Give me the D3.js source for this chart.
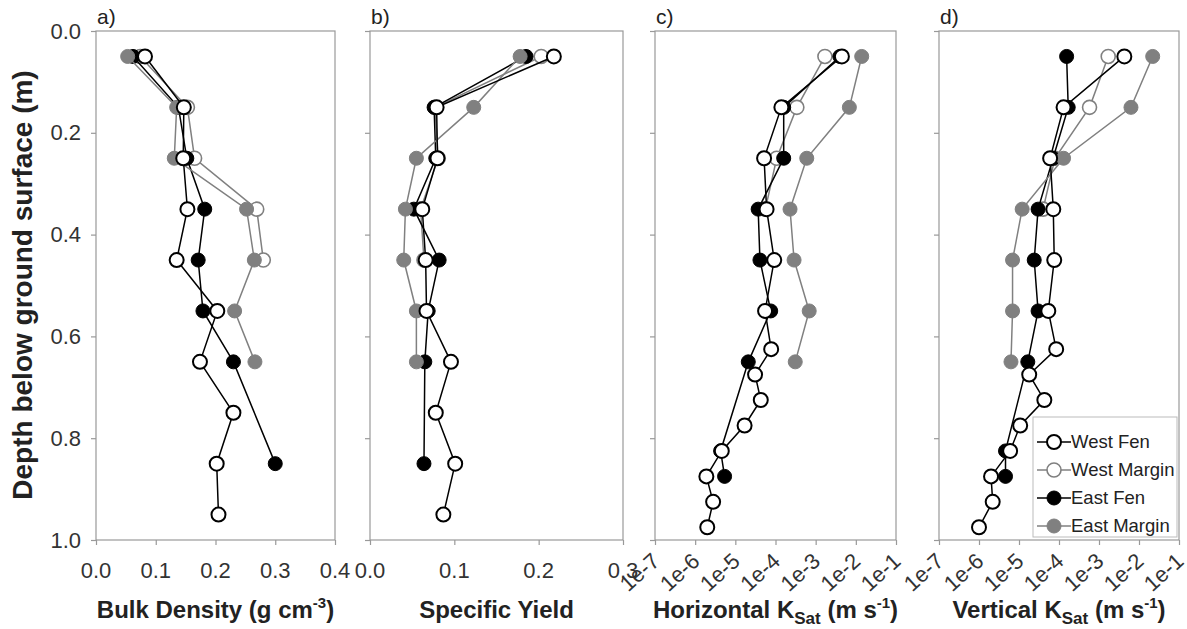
<!DOCTYPE html>
<html>
<head>
<meta charset="utf-8">
<script src="https://cdn.jsdelivr.net/npm/d3@7"></script>
<style>
body{margin:0;background:#fff}
text{font-family:"Liberation Sans",Arial,sans-serif}
</style>
</head>
<body>
<script>
// ---- data ----
var seriesNames = ["West Fen","West Margin","East Fen","East Margin"];
var depthTen   = [0.05,0.15,0.25,0.35,0.45,0.55,0.65,0.75,0.85,0.95];
var depthFive  = [0.05,0.15,0.25,0.35,0.45];
var depthFour  = [0.05,0.15,0.25,0.35];
var depthSeven = [0.05,0.15,0.25,0.35,0.45,0.55,0.65];
var depthEastFenAB = [0.05,0.15,0.25,0.35,0.45,0.55,0.65,0.85];
var depthEastFenCD = [0.05,0.15,0.25,0.35,0.45,0.55,0.65,0.825,0.875];
var depthWestFenCD = [0.05,0.15,0.25,0.35,0.45,0.55,0.625,0.675,0.725,0.775,0.825,0.875,0.925,0.975];

// a) bulk density (g cm-3)
var bdWestFen    = [0.082,0.147,0.146,0.153,0.135,0.203,0.174,0.230,0.202,0.205];
var bdWestMargin = [0.074,0.153,0.165,0.269,0.280];
var bdEastFen    = [0.062,0.138,0.152,0.182,0.171,0.179,0.230,0.300];
var bdEastMargin = [0.053,0.135,0.131,0.252,0.265,0.232,0.266];

// b) specific yield
var syWestFen    = [0.218,0.079,0.080,0.062,0.066,0.067,0.096,0.078,0.101,0.087];
var syWestMargin = [0.203,0.077,0.081,0.060,0.064];
var syEastFen    = [0.185,0.076,0.078,0.052,0.082,0.069,0.065,0.064];
var syEastMargin = [0.178,0.123,0.055,0.042,0.040,0.055,0.055];

// c) horizontal Ksat (m s-1)
var khWestFen    = [4.5e-3,1.4e-4,5.2e-5,6.0e-5,9.3e-5,5.5e-5,7.8e-5,3.1e-5,4.3e-5,1.7e-5,4.6e-6,1.9e-6,2.8e-6,2.0e-6];
var khWestMargin = [1.7e-3,3.4e-4,1.07e-4,5.6e-5];
var khEastFen    = [4.0e-3,1.6e-4,1.6e-4,3.7e-5,4.1e-5,7.6e-5,2.1e-5,4.3e-6,5.4e-6];
var khEastMargin = [1.4e-2,6.9e-3,6.0e-4,2.3e-4,2.9e-4,6.9e-4,3.1e-4];

// d) vertical Ksat (m s-1)
var kvWestFen    = [4.3e-3,1.3e-4,6.0e-5,7.2e-5,7.6e-5,5.4e-5,8.5e-5,1.8e-5,4.3e-5,1.07e-5,6.0e-6,2.0e-6,2.2e-6,1.0e-6];
var kvWestMargin = [1.7e-3,5.8e-4,7.9e-5,4.0e-5];
var kvEastFen    = [1.55e-4,1.7e-4,7.1e-5,3.0e-5,2.4e-5,3.0e-5,1.66e-5,4.6e-6,4.6e-6];
var kvEastMargin = [2.2e-2,6.3e-3,1.3e-4,1.2e-5,6.9e-6,6.9e-6,6.3e-6];

var depthTicks = [0,0.2,0.4,0.6,0.8,1.0];
var linTicksA = [0,0.1,0.2,0.3,0.4];
var linTicksB = [0,0.1,0.2,0.3];
var logTicks = [1e-7,1e-6,1e-5,1e-4,1e-3,1e-2,1e-1];
var logTickLabels = ["1e-7","1e-6","1e-5","1e-4","1e-3","1e-2","1e-1"];

// ---- styles ----
var grey = "#808080";
var styles = {
  "West Fen":    {fill:"#fff", stroke:"#000", line:"#000", sw:2},
  "West Margin": {fill:"#fff", stroke:grey,  line:grey,  sw:1.6},
  "East Fen":    {fill:"#000", stroke:"#000", line:"#000", sw:1},
  "East Margin": {fill:grey,  stroke:grey,  line:grey,  sw:1}
};
var drawOrder = ["West Margin","East Fen","East Margin","West Fen"];

function pairs(d, v){ return d.map(function(dd,i){ return {depth:dd, v:v[i]}; }); }

var panels = [
  {label:"a)", left:96, right:335, type:"lin", domain:[0,0.4], ticks:linTicksA,
   series:{"West Fen":pairs(depthTen,bdWestFen),"West Margin":pairs(depthFive,bdWestMargin),
           "East Fen":pairs(depthEastFenAB,bdEastFen),"East Margin":pairs(depthSeven,bdEastMargin)}},
  {label:"b)", left:370, right:623, type:"lin", domain:[0,0.3], ticks:linTicksB,
   series:{"West Fen":pairs(depthTen,syWestFen),"West Margin":pairs(depthFive,syWestMargin),
           "East Fen":pairs(depthEastFenAB,syEastFen),"East Margin":pairs(depthSeven,syEastMargin)}},
  {label:"c)", left:655, right:896, type:"log", domain:[1e-7,1e-1], ticks:logTicks,
   series:{"West Fen":pairs(depthWestFenCD,khWestFen),"West Margin":pairs(depthFour,khWestMargin),
           "East Fen":pairs(depthEastFenCD,khEastFen),"East Margin":pairs(depthSeven,khEastMargin)}},
  {label:"d)", left:939, right:1179, type:"log", domain:[1e-7,1e-1], ticks:logTicks,
   series:{"West Fen":pairs(depthWestFenCD,kvWestFen),"West Margin":pairs(depthFour,kvWestMargin),
           "East Fen":pairs(depthEastFenCD,kvEastFen),"East Margin":pairs(depthSeven,kvEastMargin)}}
];

var W = 1187, H = 629, plotTop = 31, plotBottom = 540;
var axisCol = "#999", labelCol = "#333";

var svg = d3.select("body").append("svg").attr("width",W).attr("height",H);

var y = d3.scaleLinear().domain([0,1]).range([plotTop,plotBottom]);

panels.forEach(function(p, pi){
  var x = (p.type === "log" ? d3.scaleLog() : d3.scaleLinear()).domain(p.domain).range([p.left,p.right]);
  var g = svg.append("g").attr("class","panel"+pi);

  // frame
  g.append("rect").attr("x",p.left).attr("y",plotTop).attr("width",p.right-p.left).attr("height",plotBottom-plotTop)
    .attr("fill","none").attr("stroke",axisCol).attr("stroke-width",1.2);

  // y ticks
  var yAxis = d3.axisLeft(y).tickValues(depthTicks).tickSize(5).tickFormat(pi === 0 ? d3.format(".1f") : "");
  var ya = g.append("g").attr("transform","translate("+p.left+",0)").call(yAxis);
  ya.select(".domain").remove();
  ya.selectAll("line").attr("stroke",axisCol).attr("stroke-width",1.2);
  ya.selectAll("text").attr("fill",labelCol).attr("font-size",22).attr("x",-15)
    .attr("font-family","Liberation Sans, Arial, sans-serif");

  // x ticks
  var xAxis = d3.axisBottom(x).tickValues(p.ticks).tickSize(5).tickFormat("");
  var xa = g.append("g").attr("transform","translate(0,"+plotBottom+")").call(xAxis);
  xa.select(".domain").remove();
  xa.selectAll("line").attr("stroke",axisCol).attr("stroke-width",1.2);

  if (p.type === "lin") {
    g.selectAll("text.xt").data(p.ticks).enter().append("text").attr("class","xt")
      .attr("x",function(d){ return x(d); }).attr("y",578)
      .attr("text-anchor","middle").attr("font-size",22).attr("fill",labelCol)
      .text(function(d){ return d3.format(".1f")(d); });
  } else {
    g.selectAll("text.xt").data(p.ticks).enter().append("text").attr("class","xt")
      .attr("transform",function(d){ return "translate("+(x(d)+6)+",563) rotate(-42)"; })
      .attr("text-anchor","end").attr("font-size",22).attr("fill",labelCol)
      .text(function(d,i){ return logTickLabels[i]; });
  }

  // panel label
  g.append("text").attr("x",p.left+1).attr("y",24).attr("font-size",21).attr("fill","#222").text(p.label);

  // series
  var line = d3.line().x(function(d){ return x(d.v); }).y(function(d){ return y(d.depth); });
  drawOrder.forEach(function(name){
    var st = styles[name], data = p.series[name];
    g.append("path").attr("d",line(data)).attr("fill","none").attr("stroke",st.line).attr("stroke-width",1.5);
    g.selectAll("circle.s"+name.replace(" ","")).data(data).enter().append("circle")
      .attr("class","s"+name.replace(" ",""))
      .attr("cx",function(d){ return x(d.v); }).attr("cy",function(d){ return y(d.depth); })
      .attr("r",7).attr("fill",st.fill).attr("stroke",st.stroke).attr("stroke-width",st.sw);
  });
});

// x axis titles
function title(cx, parts){
  var t = svg.append("text").attr("x",cx).attr("y",618).attr("text-anchor","middle")
    .attr("font-size",24).attr("font-weight","bold").attr("fill","#222");
  parts.forEach(function(pt){
    var s = t.append("tspan").text(pt.t);
    if (pt.sub) s.attr("font-size",17).attr("dy",6);
    if (pt.sup) s.attr("font-size",15).attr("dy",pt.dy);
    if (pt.back) s.attr("dy",pt.back);
  });
}
title((panels[0].left+panels[0].right)/2, [{t:"Bulk Density (g cm"},{t:"-3",sup:true,dy:-10},{t:")",back:10}]);
title((panels[1].left+panels[1].right)/2, [{t:"Specific Yield"}]);
title((panels[2].left+panels[2].right)/2, [{t:"Horizontal K"},{t:"Sat",sub:true},{t:" (m s",back:-6},{t:"-1",sup:true,dy:-10},{t:")",back:10}]);
title((panels[3].left+panels[3].right)/2, [{t:"Vertical K"},{t:"Sat",sub:true},{t:" (m s",back:-6},{t:"-1",sup:true,dy:-10},{t:")",back:10}]);

// y axis title
svg.append("text").attr("transform","translate(32,285) rotate(-90)")
  .attr("text-anchor","middle").attr("font-size",28).attr("font-weight","bold").attr("fill","#222")
  .text("Depth below ground surface (m)");

// legend
var lg = svg.append("g").attr("transform","translate(1033,417)");
lg.append("rect").attr("width",144).attr("height",120).attr("fill","#fff").attr("stroke","#bbb").attr("stroke-width",1);
seriesNames.forEach(function(name,i){
  var st = styles[name], yy = 25 + i*28;
  lg.append("line").attr("x1",4).attr("x2",38).attr("y1",yy).attr("y2",yy).attr("stroke",st.line).attr("stroke-width",1.5);
  lg.append("circle").attr("cx",21).attr("cy",yy).attr("r",7).attr("fill",st.fill).attr("stroke",st.stroke).attr("stroke-width",st.sw);
  lg.append("text").attr("x",38).attr("y",yy).attr("dy","0.35em").attr("font-size",18.5).attr("fill","#222").text(name);
});
</script>
</body>
</html>
